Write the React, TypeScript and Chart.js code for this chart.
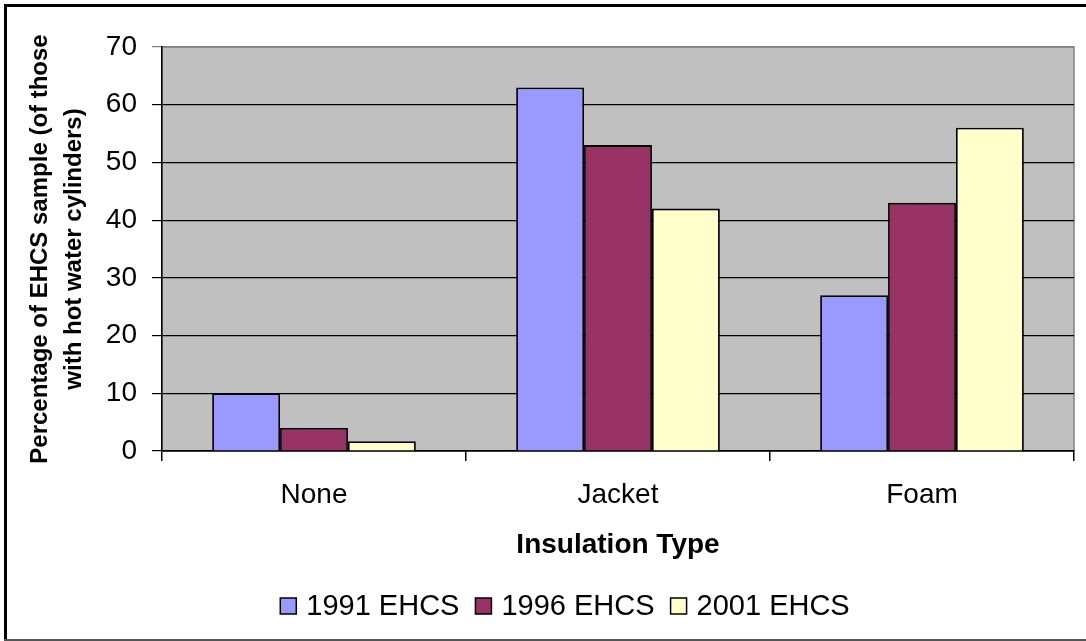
import React, { useEffect, useRef } from "react";
import { Chart, registerables } from "chart.js";

Chart.register(...registerables);

const categories = ["None", "Jacket", "Foam"];
const seriesLabels = ["1991 EHCS", "1996 EHCS", "2001 EHCS"];
const values1991 = [10, 63, 27];
const values1996 = [4, 53, 43];
const values2001 = [1.7, 42, 56];
const seriesColors = ["#9999FF", "#993366", "#FFFFCC"];
const yTitle = ["Percentage of EHCS sample (of those", "with hot water cylinders)"];
const xTitle = "Insulation Type";

const FONT = "'Liberation Sans', Arial, sans-serif";

const plotBg = {
  id: "plotBg",
  beforeDraw(chart: any) {
    const { ctx, chartArea: a } = chart;
    ctx.save();
    ctx.fillStyle = "#FFFFFF";
    ctx.fillRect(0, 0, chart.width, chart.height);
    ctx.fillStyle = "#C0C0C0";
    ctx.fillRect(a.left, a.top, a.right - a.left, a.bottom - a.top);
    ctx.strokeStyle = "#808080";
    ctx.lineWidth = 1.5;
    ctx.strokeRect(a.left, a.top, a.right - a.left, a.bottom - a.top);
    ctx.restore();
  },
  afterDraw(chart: any) {
    const { ctx } = chart;
    ctx.save();
    // outer frame
    ctx.fillStyle = "#000000";
    ctx.fillRect(4, 4, chart.width - 4, 3);
    ctx.fillRect(4, 4, 3, 636);
    ctx.fillStyle = "#555555";
    ctx.fillRect(4, 639, chart.width - 4, 2);
    // legend
    const datasets = chart.data.datasets;
    ctx.font = `29px ${FONT}`;
    ctx.textBaseline = "middle";
    ctx.textAlign = "left";
    const box = 16;
    const gapText = 10;
    const gapItem = 16;
    let total = 0;
    const widths = datasets.map((d: any) => ctx.measureText(d.label).width);
    widths.forEach((w: number, i: number) => {
      total += box + gapText + w + (i < widths.length - 1 ? gapItem : 0);
    });
    let x = 565 - total / 2;
    const cy = 606;
    datasets.forEach((d: any, i: number) => {
      ctx.fillStyle = d.backgroundColor;
      ctx.fillRect(x, cy - box / 2, box, box);
      ctx.strokeStyle = "#000000";
      ctx.lineWidth = 1.5;
      ctx.strokeRect(x, cy - box / 2, box, box);
      x += box + gapText;
      ctx.fillStyle = "#000000";
      ctx.fillText(d.label, x, cy + 1);
      x += widths[i] + gapItem;
    });
    ctx.restore();
  },
};

export default function App() {
  const ref = useRef<HTMLCanvasElement | null>(null);

  useEffect(() => {
    document.body.style.margin = "0";
    const canvas = ref.current;
    if (!canvas) return;
    const valueSets = [values1991, values1996, values2001];
    const chart = new Chart(canvas, {
      type: "bar",
      data: {
        labels: categories,
        datasets: seriesLabels.map((label, i) => ({
          label,
          data: valueSets[i],
          backgroundColor: seriesColors[i],
          borderColor: "#000000",
          borderWidth: 1.8,
          categoryPercentage: 0.67,
          barPercentage: 1,
        })),
      },
      options: {
        responsive: false,
        animation: false,
        devicePixelRatio: 1,
        layout: { padding: { left: 0, top: 47, right: 12, bottom: 0 } },
        plugins: {
          legend: { display: false },
          tooltip: { enabled: false },
        },
        scales: {
          x: {
            afterFit: (s: any) => {
              s.height = 190;
            },
            grid: {
              offset: true,
              drawOnChartArea: false,
              drawTicks: true,
              tickLength: 10,
              color: "#000000",
              lineWidth: 1.5,
            },
            border: { display: true, color: "#000000", width: 1.5 },
            ticks: {
              color: "#000000",
              font: { family: FONT, size: 28 },
              padding: 17,
              maxRotation: 0,
            },
            title: {
              display: true,
              text: xTitle,
              color: "#000000",
              font: { family: FONT, size: 28, weight: "bold" },
              padding: { top: 0, bottom: 79 },
            },
          },
          y: {
            min: 0,
            max: 70,
            afterFit: (s: any) => {
              s.width = 162;
            },
            grid: {
              drawOnChartArea: true,
              drawTicks: true,
              tickLength: 10,
              color: (c: any) => (c.tick && c.tick.value === 70 ? "#808080" : "#000000"),
              lineWidth: 1.2,
            },
            border: { display: true, color: "#000000", width: 1.5 },
            ticks: {
              stepSize: 10,
              color: "#000000",
              font: { family: FONT, size: 28 },
              padding: 15,
            },
            title: {
              display: true,
              text: yTitle,
              color: "#000000",
              font: { family: FONT, size: 24, weight: "bold", lineHeight: 1.42 },
              padding: { top: 23, bottom: 0 },
            },
          },
        },
      },
      plugins: [plotBg],
    });
    return () => chart.destroy();
  }, []);

  return (
    <div style={{ width: 1086, height: 641, position: "relative" }}>
      <canvas ref={ref} width={1086} height={641} style={{ display: "block" }} />
    </div>
  );
}
